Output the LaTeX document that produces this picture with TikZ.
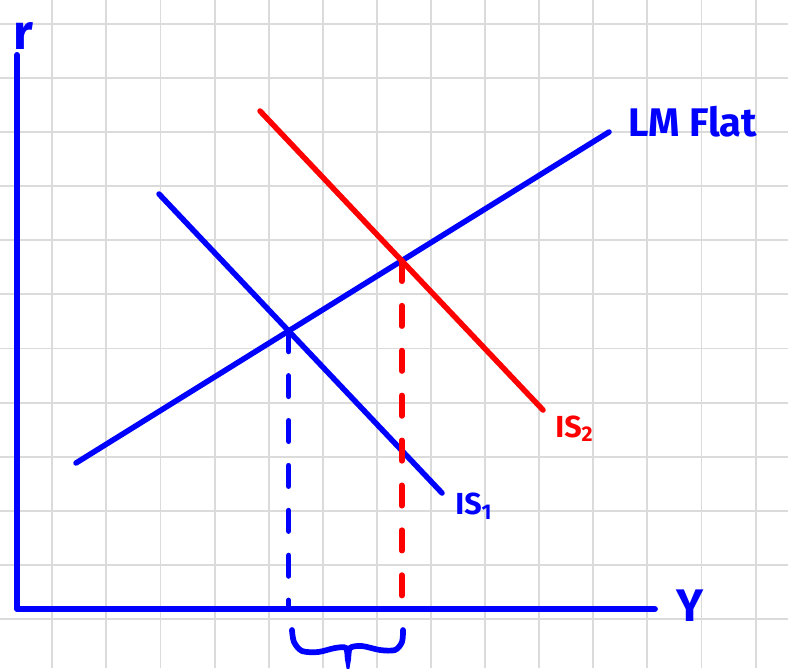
\documentclass[tikz,border=0pt]{standalone}
\usepackage{fontspec}
\setsansfont{Fira Sans}
\colorlet{lmblue}{blue}
\colorlet{isred}{red}
\colorlet{paper}{black!14}
\tikzset{
  gridline/.style={draw=paper,line width=1pt},
  axis/.style={draw=lmblue,line width=3.2pt,line cap=round,line join=round},
  curve/.style={line width=2.9pt,line cap=round},
  guide/.style={line width=2.9pt,line cap=round,dash pattern=on 0.38cm off 0.45cm},
  lbl/.style={font=\sffamily\bfseries,inner sep=0pt}
}

\begin{document}
\begin{tikzpicture}
  \useasboundingbox (-0.314,-1.091) rectangle (14.251,11.257);
  \foreach \gx in {-1,...,13} {\draw[gridline] (\gx+0.652,-1.091) -- (\gx+0.652,11.257);}
  \foreach \gy in {0,...,11} {\draw[gridline] (-0.314,\gy-0.185) -- (14.251,\gy-0.185);}
  \coordinate (O) at (0,0);
  \coordinate (ytop) at (0,10.24);
  \coordinate (xend) at (11.79,0);
  \coordinate (lmA) at (1.091,2.699); \coordinate (lmB) at (10.943,8.817);
  \coordinate (isA) at (2.625,7.671); \coordinate (isB) at (7.856,2.144);
  \coordinate (isC) at (4.492,9.205); \coordinate (isD) at (9.723,3.678);
  \coordinate (e1) at (intersection of lmA--lmB and isA--isB);
  \coordinate (e2) at (intersection of lmA--lmB and isC--isD);
  \draw[axis] (ytop) -- (O) -- (xend);
  \node[lbl,text=lmblue,font=\sffamily\bfseries\fontsize{26}{26}\selectfont,anchor=base] (rlab) at (0.11,10.34) {r};
  \node[lbl,text=lmblue,font=\sffamily\bfseries\fontsize{24}{24}\selectfont] (ylab) at (12.44,0.055) {Y};
  \draw[curve,draw=lmblue] (lmA) -- (lmB);
  \draw[curve,draw=lmblue] (isA) -- (isB);
  \draw[curve,draw=isred] (isC) -- (isD);
  \node[lbl,text=lmblue,font=\sffamily\bfseries\fontsize{21}{21}\selectfont,anchor=base west] (lmlab) at (11.29,8.725) {LM Flat};
  \node[lbl,text=lmblue,font=\sffamily\bfseries\fontsize{16}{16}\selectfont,anchor=base west] (is1lab) at (8.096,1.738) {IS\textsubscript{1}};
  \node[lbl,text=isred,font=\sffamily\bfseries\fontsize{16}{16}\selectfont,anchor=base west] (is2lab) at (9.945,3.179) {IS\textsubscript{2}};
  \draw[guide,draw=lmblue] (e1) -- (e1 |- O);
  \draw[guide,draw=isred] (e2) -- (e2 |- O);
  \draw[curve,draw=lmblue,line width=3pt] plot[smooth] coordinates {(5.083,-0.388)(5.120,-0.610)(5.268,-0.776)(5.564,-0.795)(5.878,-0.721)(6.081,-0.721)(6.118,-0.943)(6.155,-0.721)(6.377,-0.684)(6.710,-0.758)(6.987,-0.758)(7.116,-0.610)(7.135,-0.388)};
\end{tikzpicture}
\end{document}
